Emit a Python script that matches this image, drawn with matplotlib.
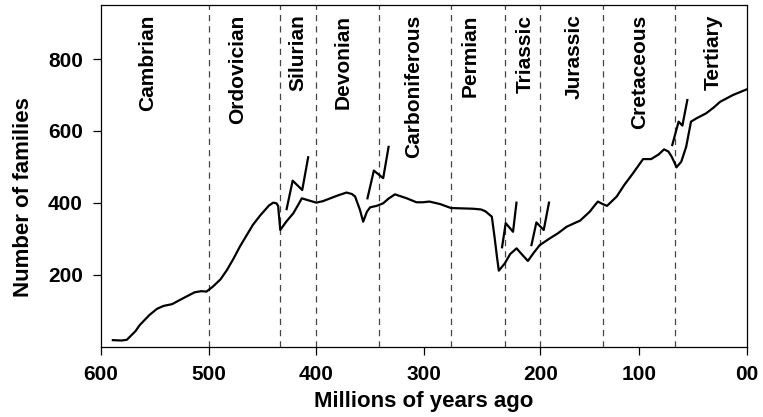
"""Diversity of marine families through the Phanerozoic, with extinction markers."""
import matplotlib
matplotlib.use("Agg")
import matplotlib.pyplot as plt
import matplotlib.transforms as mtransforms

plt.rcParams["font.family"] = ["Liberation Sans", "DejaVu Sans"]
plt.rcParams["font.weight"] = "bold"

# main curve (age in Myr, number of families)
ages = [589, 581, 576, 573, 568, 564, 555, 548, 542, 534, 524, 513, 507,
        502, 496, 489, 483, 477, 471, 465, 459, 452, 449, 444, 440, 437,
        435.5, 433.5, 428, 421.5, 417, 413.5, 408, 400, 394, 387, 380, 372,
        367, 364, 359.5, 356.5, 353, 350, 344, 338, 333, 327, 321, 316, 307,
        301, 295, 285, 275, 264, 254, 247, 243, 237, 234.5, 232, 230.5, 225,
        220, 214, 209, 203.5, 198, 192.5, 183, 175.5, 167.5, 161, 155, 146,
        141, 138.5, 134, 130, 121, 114, 106, 96.5, 89, 82, 77, 73, 70, 67,
        65.5, 61, 56.5, 52, 47, 38, 31, 25, 13, 0]
families = [19, 18, 20, 29, 44, 61, 89, 106, 114, 119, 135, 152, 155,
            154, 168, 188, 214, 245, 279, 309, 339, 366, 376, 393, 401, 399,
            392, 325, 348, 371, 394, 413, 408, 401, 405, 413, 421, 429,
            425, 418, 381, 348, 376, 388, 392, 399, 412, 424, 418, 413, 402,
            402, 404, 397, 386, 385, 384, 382, 377, 362, 306, 245, 212, 232,
            258, 274, 257, 239, 262, 283, 302, 316, 334, 343, 351, 376,
            395, 404, 397, 392, 418, 450, 482, 522, 522, 535, 549, 543, 529,
            510, 499, 515, 556, 626, 635, 649, 665, 681, 700, 716]

# zigzag "mass extinction" markers
zig_ages = [
    [427.6, 422.0, 413.1, 407.6],
    [352.5, 346.6, 337.9, 332.9],
    [227.5, 224.1, 217.3, 214.1],
    [200.2, 195.6, 188.8, 183.9],
    [69.4, 63.5, 60.0, 55.4],
]
zig_vals = [
    [383, 462, 436, 527],
    [413, 490, 469, 556],
    [277, 344, 320, 401],
    [283, 346, 325, 401],
    [561, 626, 615, 686],
]

# period boundaries and names
boundaries = [500, 433.6, 400, 341.7, 275, 225, 192, 133.4, 66.9]
periods = ["Cambrian", "Ordovician", "Silurian", "Devonian", "Carboniferous",
           "Permian", "Triassic", "Jurassic", "Cretaceous", "Tertiary"]
period_label_x = [557, 473, 417, 375, 310, 257, 206, 161, 100, 31]

xtick_pos = [600, 500, 400, 300, 192, 100, 0]
xtick_labels = ["600", "500", "400", "300", "200", "100", "00"]
ytick_pos = [200, 400, 600, 800]

fig = plt.figure(figsize=(7.63, 4.17), dpi=100)
ax = fig.add_axes([0.1324, 0.1679, 0.979 - 0.1324, 0.988 - 0.1679])

for b in boundaries:
    ax.axvline(b, color="#444444", lw=0.9, dashes=(5, 4))

ax.plot(ages, families, color="black", lw=1.6, solid_joinstyle="round")
for zx, zy in zip(zig_ages, zig_vals):
    ax.plot(zx, zy, color="black", lw=1.6)

trans = mtransforms.blended_transform_factory(ax.transData, ax.transAxes)
for name, xp in zip(periods, period_label_x):
    ax.text(xp, 0.972, name, transform=trans, rotation=90, ha="center",
            va="top", fontsize=15, fontweight="bold")

ax.set_xlim(600, 0)
ax.set_ylim(0, 950)
ax.set_xticks(xtick_pos)
ax.set_xticklabels(xtick_labels)
ax.set_yticks(ytick_pos)
ax.tick_params(direction="out", length=6, width=0.9, labelsize=15, pad=7)
for lab in ax.get_xticklabels() + ax.get_yticklabels():
    lab.set_fontweight("bold")
for sp in ax.spines.values():
    sp.set_linewidth(0.9)

ax.set_xlabel("Millions of years ago", fontsize=16, fontweight="bold")
ax.set_ylabel("Number of families", fontsize=16, fontweight="bold")
ax.xaxis.set_label_coords(0.5, -0.128)
ax.yaxis.set_label_coords(-0.103, 0.437)

fig.savefig("out.png", dpi=100)
